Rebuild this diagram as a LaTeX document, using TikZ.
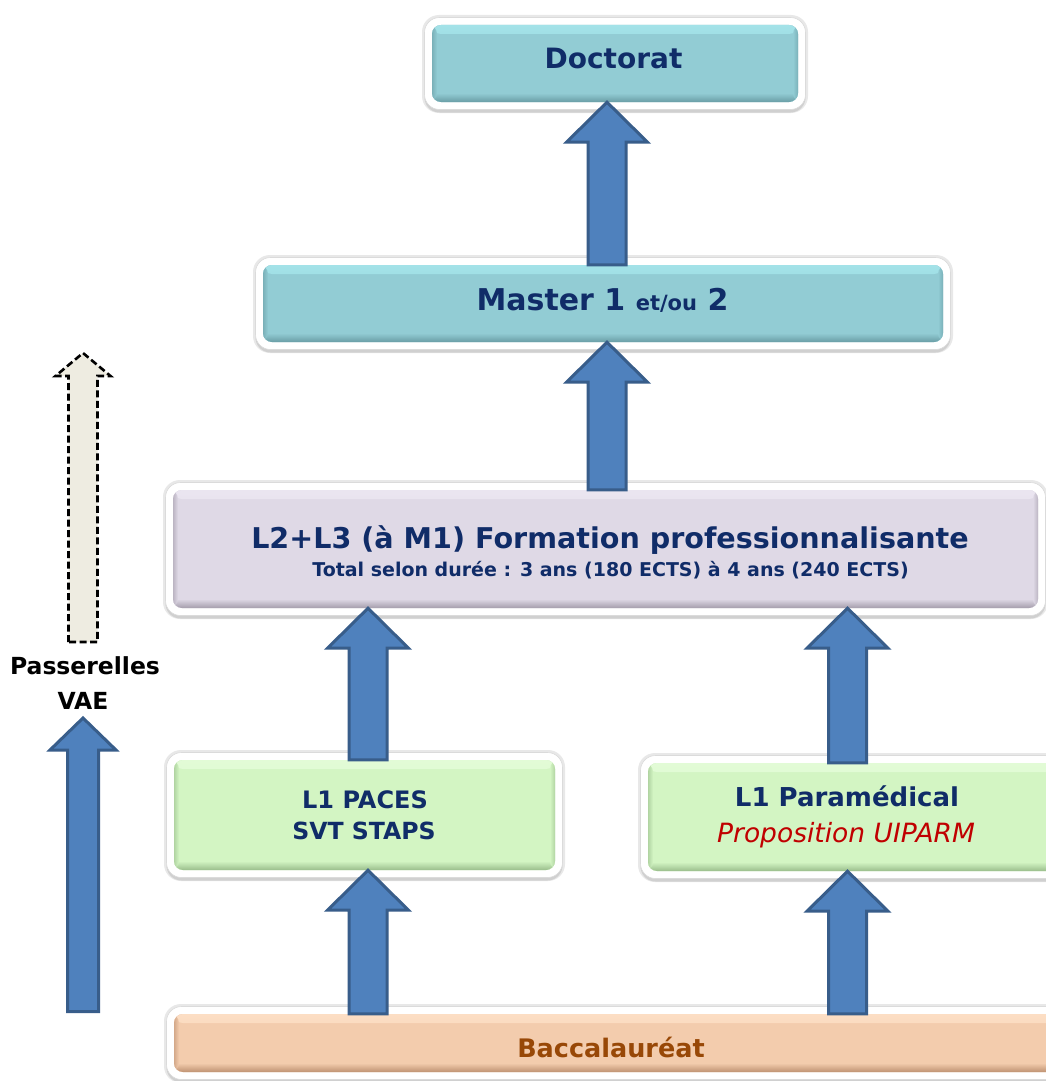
\documentclass[tikz,border=0pt]{standalone}
\usepackage{fontspec}
\setmainfont{DejaVu Sans}
\usetikzlibrary{calc,shadows}
\definecolor{navy}{HTML}{102C68}
\definecolor{brownt}{HTML}{984807}
\definecolor{redt}{HTML}{C00000}
\definecolor{arrfill}{HTML}{4F81BD}
\definecolor{arrline}{HTML}{385D8A}
\definecolor{tealB}{HTML}{92CCD4}\definecolor{tealL}{HTML}{A3E2E8}\definecolor{tealD}{HTML}{6A9EA6}
\definecolor{lavB}{HTML}{DFD9E6}\definecolor{lavL}{HTML}{EAE5F0}\definecolor{lavD}{HTML}{A49DAB}
\definecolor{grnB}{HTML}{D3F5C3}\definecolor{grnL}{HTML}{E2FBD6}\definecolor{grnD}{HTML}{9ABE8C}
\definecolor{pchB}{HTML}{F3CCAD}\definecolor{pchL}{HTML}{FCDEC4}\definecolor{pchD}{HTML}{BF9272}
\definecolor{beige}{HTML}{EEECE1}
\newcommand\fsz[1]{\fontsize{#1}{#1}\selectfont}
\tikzset{
  halo/.style={fill=black!9, rounded corners=17pt},
  frame/.style={fill=white, draw=black!14, line width=0.6pt, rounded corners=15pt,
    drop shadow={opacity=0.18, shadow xshift=0pt, shadow yshift=-3pt, fill=black!60}},
  panel/.style n args={3}{fill=#1, rounded corners=9pt, inner sep=0pt, draw=none,
    path picture={
      \shade[top color=#2, bottom color=#1] (path picture bounding box.north west) rectangle ([yshift=-9pt]path picture bounding box.north east);
      \shade[top color=#1, bottom color=#3] ([yshift=9pt]path picture bounding box.south west) rectangle (path picture bounding box.south east);
      \shade[left color=#3!60!#1, right color=#1] (path picture bounding box.south west) rectangle ([xshift=5pt]path picture bounding box.north west);
      \shade[right color=#3!60!#1, left color=#1] ([xshift=-5pt]path picture bounding box.south east) rectangle (path picture bounding box.north east);
    }},
  blockarrow/.style={fill=arrfill, draw=arrline, line width=3pt, line join=miter},
  dasharrow/.style={fill=beige, draw=black, line width=2.6pt, dash pattern=on 7pt off 3.5pt, line join=miter},
  txt/.style={anchor=base, inner sep=0pt, text=navy, font=\bfseries},
}
% panel: name, x1, y1, x2, y2, base, light, dark
\newcommand\panelbox[8]{%
  \fill[halo] (#2-10,#3-10) rectangle (#4+10,#5+11);
  \fill[frame] (#2-7.5,#3-7.5) rectangle (#4+7.5,#5+7.5);
  \node[panel={#6}{#7}{#8}, minimum width={#4pt-#2pt}, minimum height={#5pt-#3pt}] (#1) at ({(#2+#4)/2},{(#3+#5)/2}) {};
}
% block arrow: style, from (only y used), tip, head length, head half width, shaft half width
\newcommand\barrow[6]{%
  \path[#1] let \p1=(#2), \p2=(#3) in
    (\x2-#6pt,\y1) -- (\x2-#6pt,\y2-#4pt) -- (\x2-#5pt,\y2-#4pt) -- (\x2,\y2)
    -- (\x2+#5pt,\y2-#4pt) -- (\x2+#6pt,\y2-#4pt) -- (\x2+#6pt,\y1) -- cycle;
}
\begin{document}
\begin{tikzpicture}[x=1pt,y=-1pt]
\useasboundingbox[fill=white] (0,0) rectangle (1045,1081);

% boxes
\panelbox{doc}{432}{25}{798}{102}{tealB}{tealL}{tealD}
\panelbox{mas}{263}{265}{943}{342}{tealB}{tealL}{tealD}
\panelbox{lic}{173}{490}{1038}{608}{lavB}{lavL}{lavD}
\panelbox{paces}{174}{760}{555}{870}{grnB}{grnL}{grnD}
\panelbox{para}{648}{763}{1056}{871}{grnB}{grnL}{grnD}
\panelbox{bac}{174}{1014}{1056}{1072}{pchB}{pchL}{pchD}

% texts
\node[txt, font=\bfseries\fsz{28}] (tdoc) at (613.5,68) {Doctorat};
\node[txt, font=\bfseries\fsz{30}] (tmas) at (602.5,310) {Master 1 {\fsz{21}et/ou} 2};
\node[txt, font=\bfseries\fsz{28.6}] (tlic) at (610,548) {L2+L3 (à M1) Formation professionnalisante};
\node[txt, font=\bfseries\fsz{19}] (tlic2) at (610.5,576) {Total selon durée : 3 ans (180 ECTS) à 4 ans (240 ECTS)};
\node[txt, font=\bfseries\fsz{24}] (tpac1) at (365,808) {L1 PACES};
\node[txt, font=\bfseries\fsz{23.6}] (tpac2) at (364,839) {SVT STAPS};
\node[txt, font=\bfseries\fsz{26}] (tpar1) at (847,806) {L1 Paramédical};
\node[txt, text=redt, font=\itshape\fsz{26.5}] (tpar2) at (846,842) {Proposition UIPARM};
\node[txt, text=brownt, font=\bfseries\fsz{25.5}] (tbac) at (611,1057) {Baccalauréat};
\node[txt, text=black, font=\bfseries\fsz{23.5}] (tpas) at (85,674) {Passerelles};
\node[txt, text=black, font=\bfseries\fsz{23.5}] (tvae) at (83,709) {VAE};

% arrows between boxes
\barrow{blockarrow}{mas.north}{$(mas.north |- doc.south)+(4,0)$}{40}{40.5}{19}
\barrow{blockarrow}{lic.north}{$(mas.south)+(4,0)$}{40}{40.5}{19}
\barrow{blockarrow}{paces.north}{$(paces.north |- lic.south)+(3.5,0)$}{40}{40.5}{19}
\barrow{blockarrow}{para.north}{$(para.north |- lic.south)+(-4.5,0)$}{40}{40.5}{19}
\barrow{blockarrow}{bac.north}{$(paces.south)+(3.5,0)$}{40}{40.5}{19}
\barrow{blockarrow}{bac.north}{$(para.south)+(-4.5,0)$}{40}{40.5}{19}

% side arrows
\coordinate (vaeS) at (83,1011.5);
\coordinate (vaeT) at (83,718);
\coordinate (dS) at (83,642);
\coordinate (dT) at (83,353);
\barrow{blockarrow}{vaeS}{vaeT}{32}{33}{15.5}
\barrow{dasharrow}{dS}{dT}{23}{27.5}{14.5}
\end{tikzpicture}
\end{document}
